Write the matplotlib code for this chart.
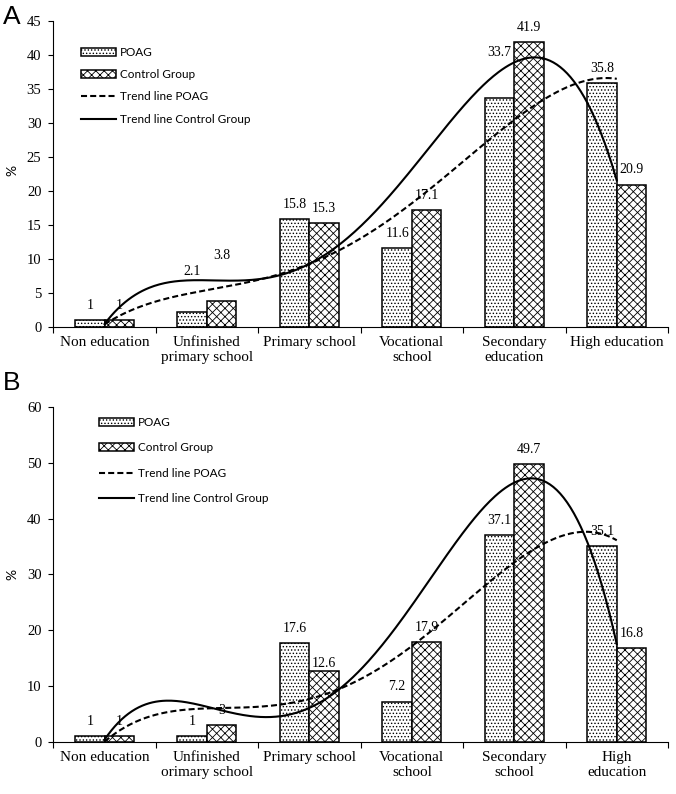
import numpy as np
import matplotlib
matplotlib.use("Agg")
import matplotlib.pyplot as plt
from matplotlib.patches import Patch
from matplotlib.lines import Line2D

# ---------------- data ----------------
cats_a = ["Non education", "Unfinished\nprimary school", "Primary school",
          "Vocational\nschool", "Secondary\neducation", "High education"]
poag_a = [1, 2.1, 15.8, 11.6, 33.7, 35.8]
ctrl_a = [1, 3.8, 15.3, 17.1, 41.9, 20.9]
poag_a_lbl = ["1", "2.1", "15.8", "11.6", "33.7", "35.8"]
ctrl_a_lbl = ["1", "3.8", "15.3", "17.1", "41.9", "20.9"]

cats_b = ["Non education", "Unfinished\norimary school", "Primary school",
          "Vocational\nschool", "Secondary\nschool", "High\neducation"]
poag_b = [1, 1, 17.6, 7.2, 37.1, 35.1]
ctrl_b = [1, 3, 12.6, 17.9, 49.7, 16.8]
poag_b_lbl = ["1", "1", "17.6", "7.2", "37.1", "35.1"]
ctrl_b_lbl = ["1", "3", "12.6", "17.9", "49.7", "16.8"]

legend_labels = ["POAG", "Control Group", "Trend line POAG", "Trend line Control Group"]

# ---------------- style ----------------
plt.rcParams["hatch.linewidth"] = 0.6
SERIF = "Liberation Serif"
SANS = "Lato"
W, H = 676, 794
fig = plt.figure(figsize=(W / 100, H / 100), dpi=100)

DOT_HATCH = "....."
X_HATCH = "xxxx"


def fx(px):
    return px / W


def fy(py):
    return 1 - py / H


BAR_W = 0.288
BASE_OFF = 10.5  # points above bar top for label centre


def bars(ax, xpos, vals, hatch, hcol):
    try:
        return ax.bar(xpos, vals, BAR_W, facecolor="white", edgecolor="black",
                      hatch=hatch, linewidth=1.1, zorder=2, hatchcolor=hcol)
    except Exception:
        return ax.bar(xpos, vals, BAR_W, facecolor="white", edgecolor="black",
                      hatch=hatch, linewidth=1.1, zorder=2)


def patch(hatch, hcol):
    try:
        return Patch(facecolor="white", edgecolor="black", hatch=hatch,
                     linewidth=1.1, hatchcolor=hcol)
    except Exception:
        return Patch(facecolor="white", edgecolor="black", hatch=hatch, linewidth=1.1)


def panel(rect, cats, poag, ctrl, plbl, clbl, ymax, ystep, extra_p, extra_c,
          leg_xy, leg_spacing, letter, letter_xy, pct_y):
    ax = fig.add_axes(rect)
    x = np.arange(len(cats))
    bars(ax, x - BAR_W / 2, poag, DOT_HATCH, "0.35")
    bars(ax, x + BAR_W / 2, ctrl, X_HATCH, "0.1")
    # polynomial trend lines (Excel-like, order 4)
    xs = np.linspace(0, len(cats) - 1, 300)
    cp = np.polyfit(x, poag, 4)
    cc = np.polyfit(x, ctrl, 4)
    ax.plot(xs, np.polyval(cp, xs), color="black", lw=1.5,
            dashes=(2.9, 1.5), zorder=3)
    ax.plot(xs, np.polyval(cc, xs), color="black", lw=1.5, zorder=3)
    # labels
    for i in range(len(cats)):
        ax.annotate(plbl[i], (x[i] - BAR_W / 2, poag[i]),
                    xytext=(0, BASE_OFF + extra_p[i]), textcoords="offset points",
                    ha="center", va="center", fontsize=10, family=SERIF, zorder=4)
        ax.annotate(clbl[i], (x[i] + BAR_W / 2, ctrl[i]),
                    xytext=(0, BASE_OFF + extra_c[i]), textcoords="offset points",
                    ha="center", va="center", fontsize=10, family=SERIF, zorder=4)
    ax.set_xlim(-0.5, len(cats) - 0.5)
    ax.set_ylim(0, ymax)
    ax.set_yticks(np.arange(0, ymax + 0.1, ystep))
    ax.set_xticks(x)
    ax.set_xticklabels(cats, fontsize=11, family=SERIF, linespacing=1.15)
    ax.set_xticks(np.arange(-0.5, len(cats) + 0.5, 1), minor=True)
    ax.tick_params(axis="x", which="major", length=0, pad=7)
    ax.tick_params(axis="x", which="minor", length=4, direction="out", width=0.8)
    ax.tick_params(axis="y", length=3.5, direction="out", width=0.8, pad=5,
                   labelsize=10.5)
    for t in ax.get_yticklabels():
        t.set_family(SERIF)
    for s in ["top", "right"]:
        ax.spines[s].set_visible(False)
    for s in ["left", "bottom"]:
        ax.spines[s].set_linewidth(0.8)
    handles = [
        patch(DOT_HATCH, "0.35"),
        patch(X_HATCH, "0.1"),
        Line2D([], [], color="black", lw=1.5, dashes=(2.9, 1.5)),
        Line2D([], [], color="black", lw=1.5),
    ]
    fig.legend(handles, legend_labels, loc="upper left",
               bbox_to_anchor=(fx(leg_xy[0]), fy(leg_xy[1])),
               frameon=False, prop={"family": SANS, "size": 8.5},
               handlelength=3.0, handleheight=0.65, handletextpad=0.3,
               labelspacing=leg_spacing, borderpad=0, borderaxespad=0)
    fig.text(fx(letter_xy[0]), fy(letter_xy[1]), letter, fontsize=19,
             family="Liberation Sans", ha="left", va="center")
    fig.text(fx(12), fy(pct_y), "%", fontsize=10, family=SANS, rotation=90,
             ha="center", va="center")
    return ax


# Panel A
panel([fx(53.3), fy(326.7), fx(668) - fx(53.3), 306 / H],
      cats_a, poag_a, ctrl_a, poag_a_lbl, ctrl_a_lbl, 45, 5,
      [0, 19, 0, 0, 22, 0], [0, 22, 0, 0, 0, 0],
      (81, 47), 0.95, "A", (3, 17), 170)

# Panel B
panel([fx(53.3), fy(741.7), fx(668) - fx(53.3), 334.8 / H],
      cats_b, poag_b, ctrl_b, poag_b_lbl, ctrl_b_lbl, 60, 10,
      [0, 0, 0, 0, 0, 0], [0, 0, -4.5, 0, 0, 0],
      (99, 417), 1.22, "B", (3, 383), 574)

fig.savefig("out.png", dpi=100)
